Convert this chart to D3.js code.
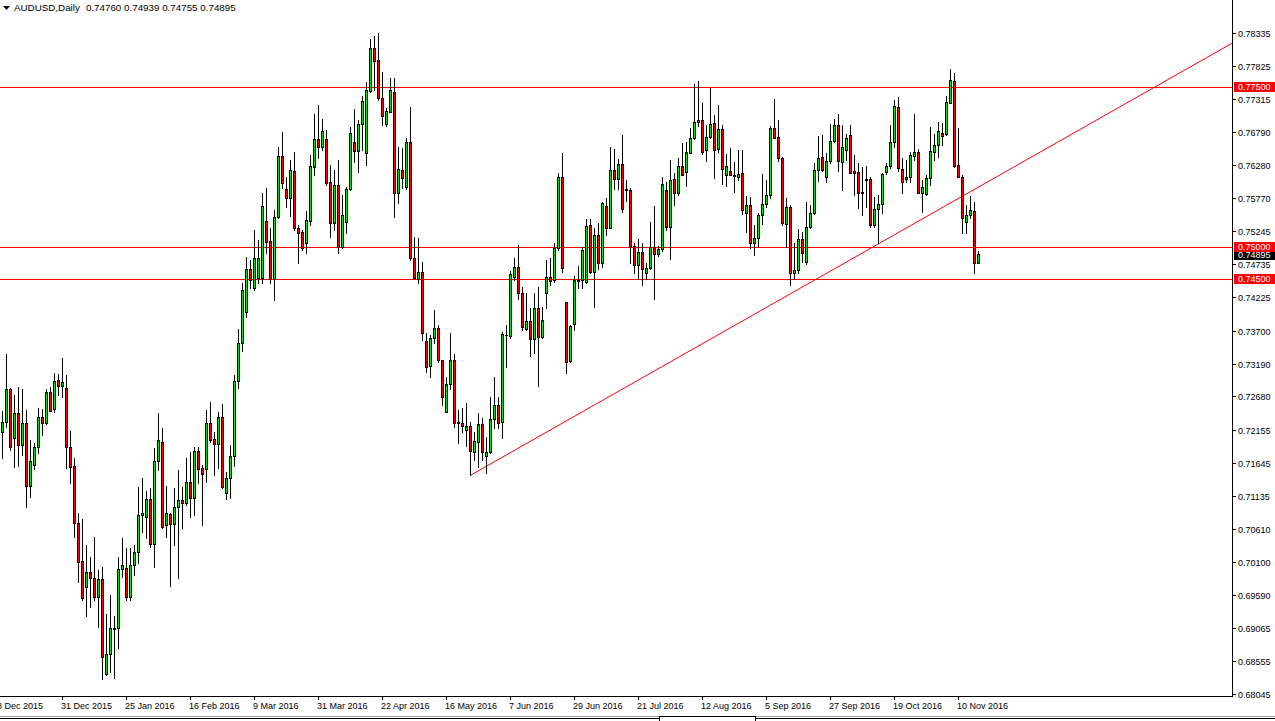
<!DOCTYPE html>
<html><head><meta charset="utf-8">
<script src="https://cdn.jsdelivr.net/npm/d3@7"></script>
<style>html,body{margin:0;padding:0;background:#fff;overflow:hidden}</style>
</head><body>
<svg id="c" width="1275" height="721"></svg>
<script>
const symbol = "AUDUSD,Daily";
const openP = [
.72128,.72273,.72787,.72024,.72413,.71915,.72258,.71282,.71614,.71884,
.72351,.72258,.72740,.72475,.72932,.72844,.72802,.71884,.71593,.70701,
.70114,.69704,.69938,.69844,.69548,.69829,.68355,.68666,.69066,.69066,
.69984,.70000,.69554,.70052,.70249,.70825,.70794,.71074,.70379,.71671,
.71967,.70675,.70846,.70690,.70950,.71064,.71022,.71339,.71090,.71827,
.71557,.71541,.72257,.72008,.71930,.72350,.71168,.71401,.71749,.72922,
.73503,.73996,.74661,.74370,.74515,.74526,.75408,.75097,.74500,.75476,
.76420,.75906,.75761,.76187,.75300,.75237,.75060,.75413,.76254,.76680,
.76555,.76680,.76010,.75382,.75969,.75008,.75398,.75901,.76643,.76503,
.76918,.76472,.77432,.78097,.77915,.77318,.76913,.77111,.77422,.75839,
.76202,.75943,.76633,.74827,.74500,.74609,.73540,.73151,.73581,.73737,
.73244,.72439,.72865,.73244,.72273,.72268,.72154,.72216,.71817,.71972,
.72247,.71754,.71806,.72320,.72543,.72284,.73633,.73618,.74531,.74687,
.74282,.73721,.73851,.73566,.74048,.73607,.74282,.74541,.74490,.74982,
.76088,.74141,.73233,.73799,.74489,.74489,.74453,.75345,.74608,.75190,
.74759,.75641,.75293,.76202,.76056,.76295,.75901,.75890,.75018,.74723,
.74920,.74593,.74671,.74998,.74894,.74966,.75890,.75319,.76062,.75849,
.76264,.76165,.76472,.76695,.76980,.76980,.76513,.76711,.76928,.76529,
.76840,.76124,.76186,.76108,.76098,.76150,.75538,.75657,.75060,.75148,
.75501,.75667,.75813,.76861,.76721,.76394,.75356,.75631,.74603,.74645,
.75127,.74764,.75320,.75527,.76202,.76410,.76088,.76342,.76653,.76902,
.76332,.76514,.76747,.76187,.76176,.75855,.76057,.76062,.75346,.75590,
.75668,.76176,.76265,.76633,.77178,.76218,.76057,.76088,.76426,.76477,
.75850,.75823,.76073,.76488,.76592,.76773,.76763,.77250,.77588,.76280,
.76098,.75398,.75502,.75569,.74760];
const highP = [
.72455,.73337,.72802,.72699,.72828,.72787,.72465,.71998,.71946,.72491,
.72475,.72787,.72818,.73036,.73026,.73270,.73010,.72143,.71713,.70856,
.70763,.70363,.70171,.70493,.69974,.70015,.69289,.69585,.69258,.70171,
.70467,.70311,.70311,.70363,.71271,.71401,.71209,.71246,.71868,.72413,
.72180,.71282,.70856,.71246,.71531,.71271,.71713,.71806,.71894,.71894,
.71609,.72465,.72585,.72128,.72429,.72553,.71505,.71920,.73010,.73721,
.74437,.74842,.74801,.75268,.75112,.75840,.75917,.75294,.75579,.76566,
.76799,.76098,.76358,.76488,.75346,.75268,.75564,.76436,.77069,.77214,
.76991,.76825,.76280,.76202,.76358,.75813,.75943,.76877,.77147,.76981,
.77354,.77578,.78237,.78289,.78330,.77733,.77162,.77630,.77630,.76566,
.76540,.76695,.77188,.75154,.75138,.74775,.73659,.73633,.74022,.73789,
.73244,.72984,.73670,.73337,.72465,.72491,.72580,.72284,.72128,.72424,
.72336,.72050,.72673,.72984,.72673,.73685,.73789,.74635,.74827,.75034,
.74386,.74292,.74048,.74292,.74386,.74074,.74801,.74827,.75060,.76160,
.76472,.74152,.73788,.74551,.74707,.75008,.75434,.75434,.75293,.75382,
.75709,.75761,.76565,.76523,.76368,.76747,.76046,.75916,.75060,.75122,
.75060,.74759,.75397,.75641,.75018,.76098,.76020,.76357,.76150,.76383,
.76627,.76643,.76850,.77541,.77590,.77240,.76903,.77473,.77058,.77214,
.76903,.76451,.76550,.76321,.76513,.76513,.75797,.75787,.75346,.75527,
.76134,.76046,.76892,.77307,.76980,.76410,.75771,.75657,.75070,.75278,
.75242,.75710,.75657,.76306,.76731,.76747,.76461,.76913,.76996,.77069,
.76903,.76763,.76903,.76436,.76306,.76254,.76265,.76098,.75787,.75813,
.76161,.76306,.76903,.77292,.77344,.76384,.76358,.76488,.77074,.76524,
.76047,.76124,.76877,.76763,.76955,.76939,.77354,.77770,.77707,.76851,
.76124,.75657,.75797,.75709,.74939];
const lowP = [
.71713,.72206,.71842,.71583,.71593,.71765,.70960,.71116,.71541,.71801,
.72076,.72247,.72455,.72439,.72699,.72662,.71557,.71323,.70483,.69792,
.69507,.69258,.69393,.69507,.69090,.68271,.68340,.68391,.68287,.68754,
.69860,.69507,.69507,.69896,.70078,.70571,.70467,.70337,.70026,.71531,
.70623,.70493,.69725,.70363,.69844,.70623,.70986,.70804,.70830,.71323,
.70675,.71349,.71972,.71453,.71557,.71246,.71074,.71090,.71598,.72802,
.73389,.73908,.74365,.74334,.74438,.74438,.74905,.74438,.74178,.75450,
.75917,.75631,.75486,.75268,.74759,.74957,.74915,.75346,.76124,.76384,
.76514,.75969,.75164,.75268,.74905,.74982,.75216,.75891,.76332,.76176,
.76514,.76280,.77422,.77448,.77292,.76903,.76887,.77111,.75465,.75694,
.75917,.75901,.74801,.74515,.74450,.73555,.73062,.72984,.73503,.73218,
.72543,.72439,.72787,.72206,.71946,.72128,.71905,.71453,.71687,.71583,
.71687,.71479,.71791,.72180,.72180,.72024,.73140,.73581,.74490,.74188,
.73711,.73711,.73306,.73348,.72839,.73581,.74048,.74412,.74464,.74950,
.74619,.73036,.73217,.73710,.74359,.74359,.74437,.74593,.74063,.74655,
.74697,.75190,.75293,.75901,.75901,.75553,.75724,.74749,.74603,.74500,
.74411,.74500,.74655,.74188,.74863,.74946,.75267,.74811,.75657,.75812,
.76124,.75953,.76472,.76679,.76887,.76446,.76342,.76695,.76072,.76477,
.75979,.75953,.76124,.75865,.76046,.75512,.75231,.74993,.74878,.75019,
.75356,.75631,.75771,.76695,.76342,.75345,.75008,.74410,.74505,.74593,
.74775,.74733,.75304,.75512,.76031,.76186,.76010,.76306,.76643,.76186,
.75891,.76358,.76160,.75813,.75606,.75502,.75631,.75320,.75320,.75060,
.75528,.76140,.76228,.76566,.76192,.75849,.76021,.76021,.76358,.75850,
.75554,.75813,.75969,.76358,.76410,.76592,.76747,.77250,.76254,.76098,
.75226,.75216,.75450,.74593,.74755];
const closeP = [
.72273,.72787,.71884,.72413,.71915,.72258,.71282,.71666,.71884,.72351,
.72258,.72740,.72455,.72922,.72844,.72896,.71884,.71583,.70711,.70104,
.69533,.69938,.69844,.69548,.69829,.68614,.68666,.69066,.69060,.69984,
.70047,.69554,.70052,.70249,.70825,.70856,.71074,.70379,.71671,.71998,
.70649,.70856,.70690,.70960,.71064,.71022,.71339,.71090,.71827,.71552,
.71464,.72257,.71998,.71930,.72350,.71270,.71401,.71749,.72922,.73503,
.74334,.74655,.74489,.74827,.74827,.75642,.75086,.74500,.75465,.76420,
.76005,.75761,.76202,.75294,.75226,.74983,.75424,.76265,.76680,.76555,
.76810,.75995,.75382,.75969,.75008,.75501,.75901,.76773,.76503,.76913,
.77277,.77448,.78097,.77904,.77318,.77043,.77121,.77448,.75839,.76213,
.76073,.76633,.74827,.74515,.74609,.73659,.73130,.73581,.73737,.73244,
.72663,.72865,.73244,.72258,.72258,.72216,.72216,.71832,.71988,.72247,
.71817,.71817,.72320,.72543,.72268,.73649,.73633,.74583,.74687,.74282,
.73763,.73851,.73566,.74048,.73607,.73867,.74541,.74479,.74983,.76088,
.74671,.73217,.73778,.74489,.74479,.74956,.75330,.74608,.75190,.74759,
.75693,.75293,.76202,.76056,.76295,.75589,.75890,.75008,.74723,.74920,
.74655,.74671,.74998,.74894,.74966,.75984,.75319,.76046,.75849,.76264,
.76124,.76487,.76695,.76944,.76954,.76477,.76711,.76913,.76513,.76840,
.76217,.76269,.76124,.76124,.76140,.75580,.75657,.75060,.75138,.75501,
.75667,.75813,.76861,.76695,.76394,.75371,.75631,.74593,.74645,.75127,
.74915,.75320,.75527,.76202,.76394,.76202,.76342,.76653,.76902,.76342,
.76555,.76695,.76160,.76160,.75839,.75839,.76047,.75346,.75590,.75668,
.76135,.76265,.76633,.77199,.76228,.76021,.76098,.76436,.76477,.75850,
.75932,.76073,.76498,.76592,.76810,.76737,.77266,.77604,.76265,.76098,
.75450,.75502,.75580,.74760,.74895];

const priceTicks = [0.78335,0.77825,0.77315,0.76790,0.76280,0.75770,0.75245,0.74735,0.74225,0.73700,
  0.73190,0.72680,0.72155,0.71645,0.71135,0.70610,0.70100,0.69590,0.69065,0.68555,0.68045];
const dateLabels = ["8 Dec 2015","31 Dec 2015","25 Jan 2016","16 Feb 2016","9 Mar 2016","31 Mar 2016",
  "22 Apr 2016","16 May 2016","7 Jun 2016","29 Jun 2016","21 Jul 2016","12 Aug 2016","5 Sep 2016",
  "27 Sep 2016","19 Oct 2016","10 Nov 2016"];
const dateBars = [-1,15,31,47,63,79,95,111,127,143,159,175,191,207,223,239];
const levels = [0.77500, 0.75000, 0.74500];
const trendFrom = [117, 0.71450];
const trendTo = [307.5, 0.78180];

const W = 1275, H = 721;
const plotR = 1232, plotB = 696;
const FONT = "'Liberation Sans', Arial, sans-serif";
const GREEN = "#00e600", RED = "#ff0000";

const svg = d3.select("#c");
svg.append("rect").attr("width", W).attr("height", H).attr("fill", "#fff");

const n = closeP.length;
const x = d3.scaleLinear().domain([0, n - 1]).range([2, 2 + 4 * (n - 1)]);
const y = d3.scaleLinear().domain([0.68045, 0.78335]).range([694, 33]);

svg.append("clipPath").attr("id", "plot").append("rect")
  .attr("x", 0).attr("y", 0).attr("width", plotR).attr("height", plotB);
const g = svg.append("g").attr("clip-path", "url(#plot)").attr("shape-rendering", "crispEdges");

levels.forEach(v => {
  const yy = Math.round(y(v)) + 0.5;
  g.append("line").attr("x1", 0).attr("x2", plotR).attr("y1", yy).attr("y2", yy)
    .attr("stroke", RED).attr("stroke-width", 1);
});

svg.append("g").attr("clip-path", "url(#plot)").append("line")
  .attr("x1", x(trendFrom[0]) + 0.5).attr("y1", y(trendFrom[1]))
  .attr("x2", x(trendTo[0]) + 0.5).attr("y2", y(trendTo[1]))
  .attr("stroke", RED).attr("stroke-width", 1);

const cg = svg.append("g").attr("clip-path", "url(#plot)").attr("shape-rendering", "crispEdges");
d3.range(n).forEach(i => {
  const o = openP[i], c = closeP[i], hi = highP[i], lo = lowP[i];
  const cx = Math.round(x(i));
  const yT = Math.round(y(Math.max(o, c)));
  const yB = Math.round(y(Math.min(o, c)));
  const yH = Math.min(Math.round(y(hi)), yT);
  const yL = Math.max(Math.round(y(lo)), yB);
  cg.append("rect").attr("x", cx).attr("y", yH).attr("width", 1).attr("height", yL - yH + 1).attr("fill", "#000");
  cg.append("rect").attr("x", cx - 1).attr("y", yT).attr("width", 3).attr("height", yB - yT + 1).attr("fill", "#000");
  if (yB - yT - 1 > 0) {
    cg.append("rect").attr("x", cx).attr("y", yT + 1).attr("width", 1).attr("height", yB - yT - 1)
      .attr("fill", c >= o ? GREEN : RED);
  }
});

svg.append("line").attr("x1", plotR + 0.5).attr("x2", plotR + 0.5).attr("y1", 0).attr("y2", plotB + 1)
  .attr("stroke", "#000").attr("shape-rendering", "crispEdges");
svg.append("line").attr("x1", 0).attr("x2", plotR + 1).attr("y1", plotB + 0.5).attr("y2", plotB + 0.5)
  .attr("stroke", "#000").attr("shape-rendering", "crispEdges");

const pa = svg.append("g");
priceTicks.forEach(v => {
  const yy = Math.round(y(v));
  pa.append("line").attr("x1", plotR).attr("x2", plotR + 4).attr("y1", yy + 0.5).attr("y2", yy + 0.5)
    .attr("stroke", "#000").attr("shape-rendering", "crispEdges");
  pa.append("text").attr("x", 1238).attr("y", yy + 3.5).text(v.toFixed(5))
    .attr("font-family", FONT).attr("font-size", "9px").attr("fill", "#000");
});

const last = n - 1;
const lp = closeP[last];
{
  const yy = Math.round(y(lp));
  pa.append("rect").attr("x", 1234).attr("y", yy - 4).attr("width", 41).attr("height", 10).attr("fill", "#000");
  pa.append("text").attr("x", 1238).attr("y", yy + 4).text(lp.toFixed(5))
    .attr("font-family", FONT).attr("font-size", "9px").attr("fill", "#fff");
}
levels.forEach(v => {
  const yy = Math.round(y(v));
  pa.append("rect").attr("x", 1234).attr("y", yy - 5).attr("width", 41).attr("height", 10).attr("fill", RED);
  pa.append("text").attr("x", 1238).attr("y", yy + 3).text(v.toFixed(5))
    .attr("font-family", FONT).attr("font-size", "9px").attr("fill", "#fff");
});

const da = svg.append("g");
dateLabels.forEach((lab, k) => {
  const xx = Math.round(x(dateBars[k]));
  da.append("line").attr("x1", xx + 0.5).attr("x2", xx + 0.5).attr("y1", plotB).attr("y2", plotB + 4)
    .attr("stroke", "#000").attr("shape-rendering", "crispEdges");
  da.append("text").attr("x", xx - 1).attr("y", 709).text(lab)
    .attr("font-family", FONT).attr("font-size", "9px").attr("fill", "#000");
});

svg.append("line").attr("x1", 0).attr("x2", W).attr("y1", 716.5).attr("y2", 716.5)
  .attr("stroke", "#a0a0a0").attr("shape-rendering", "crispEdges");
svg.append("line").attr("x1", 0).attr("x2", W).attr("y1", 718.5).attr("y2", 718.5)
  .attr("stroke", "#000").attr("shape-rendering", "crispEdges");
svg.append("rect").attr("x", 659.5).attr("y", 716.5).attr("width", 96).attr("height", 6)
  .attr("fill", "#fff").attr("stroke", "#000").attr("shape-rendering", "crispEdges");

svg.append("path").attr("d", "M3,6 L10,6 L6.5,10 Z").attr("fill", "#000");
const title = svg.append("text").attr("x", 14).attr("y", 11)
  .attr("font-family", FONT).attr("font-size", "9.8px").attr("fill", "#000");
title.append("tspan").text(symbol);
title.append("tspan").attr("dx", 6)
  .text([openP[last], highP[last], lowP[last], closeP[last]].map(v => v.toFixed(5)).join(" "));
</script>
</body></html>
